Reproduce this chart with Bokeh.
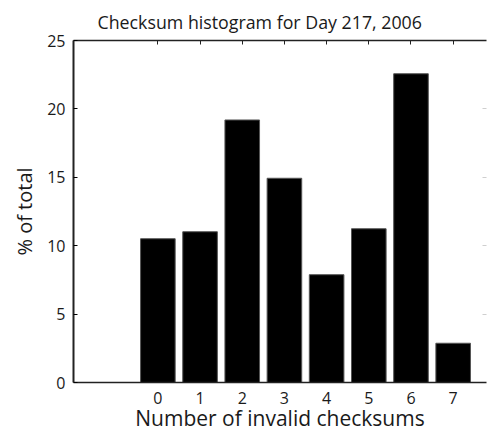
from bokeh.plotting import figure
from bokeh.models import FixedTicker, LinearAxis, Range1d
from bokeh.embed import file_html
from bokeh.resources import INLINE

invalid_checksums = [0, 1, 2, 3, 4, 5, 6, 7]
pct_of_total = [10.51, 11.02, 19.19, 14.93, 7.88, 11.24, 22.57, 2.87]
y_ticks = [0, 5, 10, 15, 20, 25]
right_ticks = [5, 10, 15, 20]

FONT = "Open Sans"
TXT = "#1a1a1a"

p = figure(width=490, height=434, output_backend="svg", toolbar_location=None,
           x_range=Range1d(-2, 7.79), y_range=Range1d(0, 25),
           min_border_left=73, min_border_right=4, min_border_top=40, min_border_bottom=52)
p.outline_line_color = None
p.xgrid.grid_line_color = None
p.ygrid.grid_line_color = None
p.background_fill_color = "white"

p.vbar(x=invalid_checksums, top=pct_of_total, width=0.82,
       fill_color="black", line_color="#555555", line_width=1)

# title
p.title.text = "Checksum histogram for Day 217, 2006"
p.title.align = "left"
p.title.offset = 24
p.title.text_font = FONT
p.title.text_font_size = "17.8px"
p.title.text_font_style = "normal"
p.title.text_color = TXT
p.title.standoff = 13

# bottom axis
xa = p.xaxis[0]
xa.ticker = FixedTicker(ticks=invalid_checksums)
xa.major_tick_in = 0
xa.major_tick_out = 0
xa.minor_tick_line_color = None
xa.axis_line_width = 1.5
xa.axis_line_color = "#222222"
xa.major_label_standoff = 9
xa.major_label_text_font = FONT
xa.major_label_text_font_size = "16px"
xa.major_label_text_color = TXT
xa.axis_label = "Number of invalid checksums"
xa.axis_label_text_font = FONT
xa.axis_label_text_font_size = "21px"
xa.axis_label_text_font_style = "normal"
xa.axis_label_text_color = TXT
xa.axis_label_standoff = -3

# left axis
ya = p.yaxis[0]
ya.ticker = FixedTicker(ticks=y_ticks)
ya.major_tick_in = 4
ya.major_tick_out = 0
ya.minor_tick_line_color = None
ya.axis_line_width = 2
ya.axis_line_color = "#222222"
ya.major_label_standoff = 8
ya.major_label_text_font = FONT
ya.major_label_text_font_size = "16px"
ya.major_label_text_color = TXT
ya.axis_label = "% of total"
ya.axis_label_text_font = FONT
ya.axis_label_text_font_size = "20px"
ya.axis_label_text_font_style = "normal"
ya.axis_label_text_color = TXT
ya.axis_label_standoff = 6

# top axis (box line with inner ticks, no labels)
top = LinearAxis(ticker=FixedTicker(ticks=invalid_checksums))
top.major_tick_in = 4
top.major_tick_out = 0
top.minor_tick_line_color = None
top.axis_line_width = 1.5
top.axis_line_color = "#222222"
top.major_tick_line_color = "#222222"
top.major_label_text_color = None
top.major_label_standoff = 0
p.add_layout(top, "above")

# right side: faint inner ticks only
right = LinearAxis(ticker=FixedTicker(ticks=right_ticks))
right.axis_line_color = None
right.major_tick_in = 4
right.major_tick_out = 0
right.major_tick_line_color = "#cfcfcf"
right.minor_tick_line_color = None
right.major_label_text_color = None
right.major_label_standoff = 0
p.add_layout(right, "right")

open("out.html", "w").write(file_html(p, INLINE))
